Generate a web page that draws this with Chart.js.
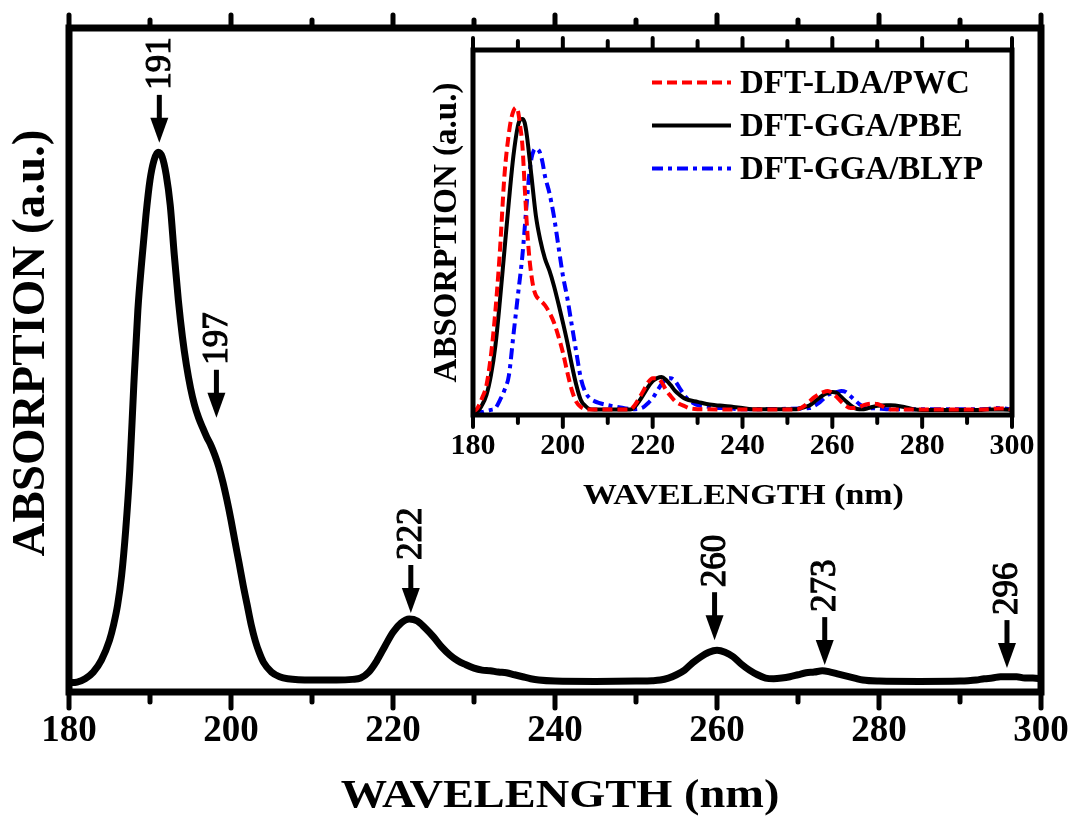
<!DOCTYPE html>
<html><head><meta charset="utf-8">
<script src="https://cdn.jsdelivr.net/npm/chart.js@4.4.1/dist/chart.umd.min.js"></script>
<style>
html,body{margin:0;padding:0;background:#fff;}
#wrap{position:relative;width:1072px;height:821px;overflow:hidden;}
#main{position:absolute;left:0;top:0;}
#inset{position:absolute;left:420px;top:30px;}
</style></head><body>
<div id="wrap"><canvas id="main" width="1072" height="821"></canvas><canvas id="inset" width="640" height="490"></canvas></div>
<script>
// ---------- DATA ----------
const xTickLabels = [180, 200, 220, 240, 260, 280, 300];

const mainWl = [180,181,182,183,184,185,185.5,186,186.5,187,187.5,188,188.5,189,189.5,190,190.5,191,191.5,192,192.5,193,193.5,194,194.5,195,195.5,196,196.5,197,197.5,198,198.5,199,199.5,200,200.5,201,201.5,202,202.5,203,203.5,204,205,206,207,210,213,215,216,217,218,219,220,221,222,223,224,225,226,227,228,229,230,231,232,233,234,235,236,237,238,240,245,250,252,253,254,255,256,257,258,259,260,261,262,263,264,265,266,267,268,269,270,271,272,273,274,275,276,277,278,280,285,290,291,292,293,294,295,296,297,298,299,300];
const mainAbs = [1.4,1.5,2.0,3.0,4.8,7.8,10.1,13.1,17.6,24.4,33.4,46.2,57.5,65.1,71.8,77.1,80.1,81.3,80.6,77.9,73.3,65.8,59.0,53.5,49.2,45.8,43.2,41.3,39.8,38.4,37.2,35.7,33.9,31.6,28.9,25.9,22.6,19.4,16.1,13.1,10.1,7.7,5.9,4.5,3.0,2.3,2.0,1.8,1.8,1.9,2.1,3.0,4.7,6.9,9.0,10.4,11.0,10.7,9.6,8.3,6.8,5.6,4.7,4.1,3.6,3.3,3.2,3.0,2.9,2.6,2.3,2.0,1.8,1.65,1.6,1.65,1.7,1.8,2.1,2.6,3.3,4.4,5.3,6.0,6.3,6.0,5.3,4.2,3.3,2.6,2.1,2.0,2.1,2.3,2.6,2.9,3.0,3.2,3.0,2.7,2.4,2.1,1.8,1.65,1.6,1.65,1.7,1.8,2.0,2.1,2.3,2.3,2.3,2.1,2.1,2.0];

const peakLabels = ['191','197','222','260','273','296'];
const peakArrowWl = [191.15, 198.2, 222.2, 259.7, 273.3, 295.8];
const peakArrowTip = [82.7, 41.3, 11.9, 7.8, 4.05, 3.6];

const seriesNames = ['DFT-LDA/PWC', 'DFT-GGA/PBE', 'DFT-GGA/BLYP'];

const ldaWl = [180,181,182,183,184,185,186,187,188,188.5,189,189.5,190,190.5,191,191.5,192,192.5,193,193.5,194,195,196,197,198,199,200,201,202,203,204,205,206,210,215,216,217,218,219,220,221,222,223,224,225,226,227,228,230,240,252,253,254,255,256,257,258,259,260,261,262,263,264,265,266,267,268,269,270,271,272,273,280,290,295,297,298,300];
const ldaAbs = [0.8,1.9,4.6,8.2,16.4,28.7,45.1,65.6,77.3,81.1,83.3,84.2,83.3,79.2,73.8,62.8,51.9,43.7,38.3,34.7,32.8,31.4,30.1,28.1,25.4,21.6,17.2,11.7,6.8,3.6,2.2,1.6,1.5,1.5,1.5,2.7,4.6,6.8,9.0,10.1,10.1,9.0,6.8,5.2,3.8,3.0,2.5,1.9,1.6,1.5,1.5,1.9,2.7,3.8,4.9,5.7,6.3,6.6,6.0,4.9,3.6,2.5,1.9,1.9,2.2,2.7,3.0,3.1,3.0,2.5,1.9,1.5,1.5,1.5,1.6,1.8,1.8,1.5];

const pbeWl = [180,181,182,183,184,185,186,187,188,189,190,190.5,191,191.5,192,193,194,195,196,197,198,199,200,201,202,203,204,205,206,207,215,216,217,218,219,220,221,222,223,224,225,226,227,228,230,232,234,236,238,240,242,252,253,254,255,256,257,258,259,260,261,262,263,264,265,266,267,268,270,272,273,274,276,278,280,293,294,298,300];
const pbeAbs = [1.1,1.1,2.7,5.5,10.9,19.1,31.4,45.1,58.7,71.0,79.2,80.9,81.1,80.1,76.5,65.6,54.6,47.8,42.9,39.6,35.5,30.6,25.4,19.9,13.7,8.2,4.1,2.5,1.6,1.5,1.5,2.2,3.8,5.7,7.7,9.3,10.1,10.4,9.6,8.2,6.6,5.5,4.6,4.1,3.6,3.0,2.7,2.5,2.2,1.9,1.6,1.6,1.9,2.2,2.7,3.6,4.6,5.5,6.0,6.3,6.0,4.9,3.8,2.7,1.9,1.6,1.6,1.9,2.5,2.7,2.7,2.6,2.2,1.6,1.4,1.4,1.5,1.5,1.4];

const blypWl = [180,181,182,183,184,185,186,187,188,189,190,191,192,192.5,193,193.5,194,194.5,195,195.5,196,197,197.5,198,199,200,201,202,203,204,205,206,207,208,210,212,214,216,218,219,220,221,222,223,224,225,226,227,228,229,230,232,234,236,240,255,256,257,258,259,260,261,262,263,264,265,266,267,268,270,272,294,296,298,300];
const blypAbs = [0.8,0.8,0.8,1.1,1.4,1.9,4.1,6.8,10.9,21.9,32.8,43.7,58.7,65.6,70.2,72.4,73.0,72.7,71.6,69.1,65.6,60.9,57.9,54.6,46.4,38.3,32.0,24.6,17.2,10.1,6.3,4.6,3.8,3.3,2.7,2.2,1.8,1.6,2.2,3.3,4.6,6.6,8.5,9.8,10.1,9.3,7.4,5.5,4.1,3.3,2.7,2.3,2.0,1.9,1.6,1.9,2.5,3.3,4.4,5.5,6.0,6.3,6.6,6.3,5.2,4.1,3.0,2.3,1.9,1.8,1.6,1.6,1.9,1.8,1.5];

// ---------- HELPERS ----------
const SERIF = "'Liberation Serif','Times New Roman',serif";
const pts = (xs, ys) => xs.map((v, i) => ({x: v, y: ys[i]}));

const frameTicks = {
  id: 'frameTicks',
  afterDatasetsDraw(chart, args, o) {
    const {ctx, chartArea: a, scales: {x}} = chart;
    ctx.save();
    ctx.strokeStyle = '#000';
    ctx.lineCap = 'round';
    ctx.lineWidth = o.tickWidth;
    const n = Math.round((x.max - x.min) / o.minorStep);
    for (let i = 0; i <= n; i++) {
      const v = x.min + i * o.minorStep;
      const px = x.getPixelForValue(v);
      const major = (i % Math.round(o.majorStep / o.minorStep)) === 0;
      ctx.beginPath();
      ctx.moveTo(px, a.bottom); ctx.lineTo(px, a.bottom + (major ? o.majorBottom : o.minorBottom));
      ctx.moveTo(px, a.top); ctx.lineTo(px, a.top - (major ? o.majorTop : o.minorTop));
      ctx.stroke();
    }
    ctx.lineCap = 'butt';
    ctx.lineJoin = 'miter';
    ctx.lineWidth = o.frameWidth;
    ctx.strokeRect(a.left, a.top, a.right - a.left, a.bottom - a.top);
    ctx.restore();
  }
};

// x-axis title drawn centred under the chart area, slightly widened like the original lettering
const xTitle = {
  id: 'xTitle',
  afterDraw(chart, args, o) {
    const {ctx, chartArea: a} = chart;
    ctx.save();
    ctx.font = 'bold ' + o.size + 'px ' + SERIF;
    ctx.textAlign = 'center';
    ctx.textBaseline = 'middle';
    ctx.fillStyle = '#000';
    ctx.translate((a.left + a.right) / 2 + o.dx, a.bottom + o.offset);
    ctx.scale(o.stretch, 1);
    ctx.fillText(o.text, 0, 0);
    ctx.restore();
  }
};

const arrowsPlugin = {
  id: 'peakArrows',
  afterDraw(chart) {
    const {ctx, scales: {x, y}} = chart;
    ctx.save();
    ctx.fillStyle = '#000';
    ctx.strokeStyle = '#000';
    for (let i = 0; i < peakLabels.length; i++) {
      const px = x.getPixelForValue(peakArrowWl[i]);
      const tip = y.getPixelForValue(peakArrowTip[i]);
      ctx.lineWidth = 5;
      ctx.lineCap = 'butt';
      ctx.beginPath();
      ctx.moveTo(px, tip - 48); ctx.lineTo(px, tip - 20);
      ctx.stroke();
      ctx.beginPath();
      ctx.moveTo(px - 9, tip - 25); ctx.lineTo(px + 9, tip - 25); ctx.lineTo(px, tip);
      ctx.closePath(); ctx.fill();
      ctx.save();
      ctx.translate(px + 1, tip - 53);
      ctx.rotate(-Math.PI / 2);
      ctx.font = '35px ' + SERIF;
      ctx.textAlign = 'left';
      ctx.textBaseline = 'middle';
      ctx.lineWidth = 1.1;
      ctx.fillText(peakLabels[i], 0, 0);
      ctx.strokeText(peakLabels[i], 0, 0);
      ctx.restore();
    }
    // main y title
    ctx.save();
    ctx.translate(32, 343);
    ctx.rotate(-Math.PI / 2);
    ctx.font = 'bold 47px ' + SERIF;
    ctx.textAlign = 'center';
    ctx.textBaseline = 'middle';
    ctx.fillText('ABSORPTION (a.u.)', 0, 0);
    ctx.restore();
    ctx.restore();
  }
};

const legendPlugin = {
  id: 'insetLegend',
  afterDraw(chart) {
    const {ctx, chartArea: a} = chart;
    const rows = [34, 77, 120];
    ctx.save();
    chart.data.datasets.forEach((ds, i) => {
      const yy = a.top + rows[i];
      ctx.strokeStyle = ds.borderColor;
      ctx.lineWidth = ds.borderWidth;
      ctx.setLineDash(ds.borderDash || []);
      ctx.lineCap = 'butt';
      ctx.beginPath();
      ctx.moveTo(a.left + 179, yy - 1.5); ctx.lineTo(a.left + 258, yy - 1.5);
      ctx.stroke();
      ctx.setLineDash([]);
      ctx.fillStyle = '#000';
      ctx.font = 'bold 33px ' + SERIF;
      ctx.textAlign = 'left';
      ctx.textBaseline = 'middle';
      ctx.fillText(ds.label, a.left + 267, yy);
    });
    ctx.restore();
  }
};

// ---------- MAIN CHART ----------
new Chart(document.getElementById('main'), {
  type: 'line',
  data: {
    datasets: [{
      data: pts(mainWl, mainAbs),
      borderColor: '#000', borderWidth: 7, pointRadius: 0,
      cubicInterpolationMode: 'monotone', borderJoinStyle: 'round', borderCapStyle: 'round', fill: false
    }]
  },
  options: {
    responsive: false, animation: false, devicePixelRatio: 1,
    layout: {padding: {left: 0, right: 31, top: 28, bottom: 0}},
    plugins: {legend: {display: false}, tooltip: {enabled: false},
      frameTicks: {tickWidth: 5, frameWidth: 7, minorStep: 10, majorStep: 20, majorTop: 13, minorTop: 8, majorBottom: 16, minorBottom: 10},
      xTitle: {text: 'WAVELENGTH (nm)', size: 40, stretch: 1.16, offset: 105, dx: 5}},
    scales: {
      x: {
        type: 'linear', min: 180, max: 300,
        afterBuildTicks(s) { s.ticks = xTickLabels.map(v => ({value: v})); },
        ticks: {color: '#000', font: {family: SERIF, weight: 'bold', size: 37}, padding: 0, maxRotation: 0, autoSkip: false},
        grid: {display: false, drawTicks: true, tickLength: 17}, border: {display: false},
        afterFit(s) { s.height = 129; }
      },
      y: {
        min: 0, max: 100,
        ticks: {display: false}, grid: {display: false, drawTicks: false}, border: {display: false},
        afterFit(s) { s.width = 69; }
      }
    }
  },
  plugins: [frameTicks, arrowsPlugin, xTitle]
});

// ---------- INSET CHART ----------
new Chart(document.getElementById('inset'), {
  type: 'line',
  data: {
    datasets: [
      {label: seriesNames[0], data: pts(ldaWl, ldaAbs), borderColor: '#ff0000', borderWidth: 4, borderDash: [10, 5], pointRadius: 0, cubicInterpolationMode: 'monotone', fill: false},
      {label: seriesNames[1], data: pts(pbeWl, pbeAbs), borderColor: '#000000', borderWidth: 4, pointRadius: 0, cubicInterpolationMode: 'monotone', fill: false},
      {label: seriesNames[2], data: pts(blypWl, blypAbs), borderColor: '#0000ff', borderWidth: 4, borderDash: [11, 5, 4, 5], pointRadius: 0, cubicInterpolationMode: 'monotone', fill: false}
    ]
  },
  options: {
    responsive: false, animation: false, devicePixelRatio: 1,
    layout: {padding: {left: 0, right: 48, top: 20, bottom: 0}},
    plugins: {legend: {display: false}, tooltip: {enabled: false},
      frameTicks: {tickWidth: 4, frameWidth: 5, minorStep: 10, majorStep: 20, majorTop: 12, minorTop: 9, majorBottom: 12, minorBottom: 8},
      xTitle: {text: 'WAVELENGTH (nm)', size: 29, stretch: 1.17, offset: 82, dx: 1}},
    scales: {
      x: {
        type: 'linear', min: 180, max: 300,
        afterBuildTicks(s) { s.ticks = xTickLabels.map(v => ({value: v})); },
        ticks: {color: '#000', font: {family: SERIF, weight: 'bold', size: 30}, padding: 13, maxRotation: 0, autoSkip: false},
        grid: {display: false, drawTicks: false}, border: {display: false},
        afterFit(s) { s.height = 105; }
      },
      y: {
        min: 0, max: 100,
        ticks: {display: false}, grid: {display: false, drawTicks: false}, border: {display: false},
        title: {display: true, text: 'ABSORPTION (a.u.)', color: '#000', font: {family: SERIF, weight: 'bold', size: 33}, padding: {top: 8, bottom: 0}},
        afterFit(s) { s.width = 53; }
      }
    }
  },
  plugins: [frameTicks, legendPlugin, xTitle]
});
</script>
</body></html>
